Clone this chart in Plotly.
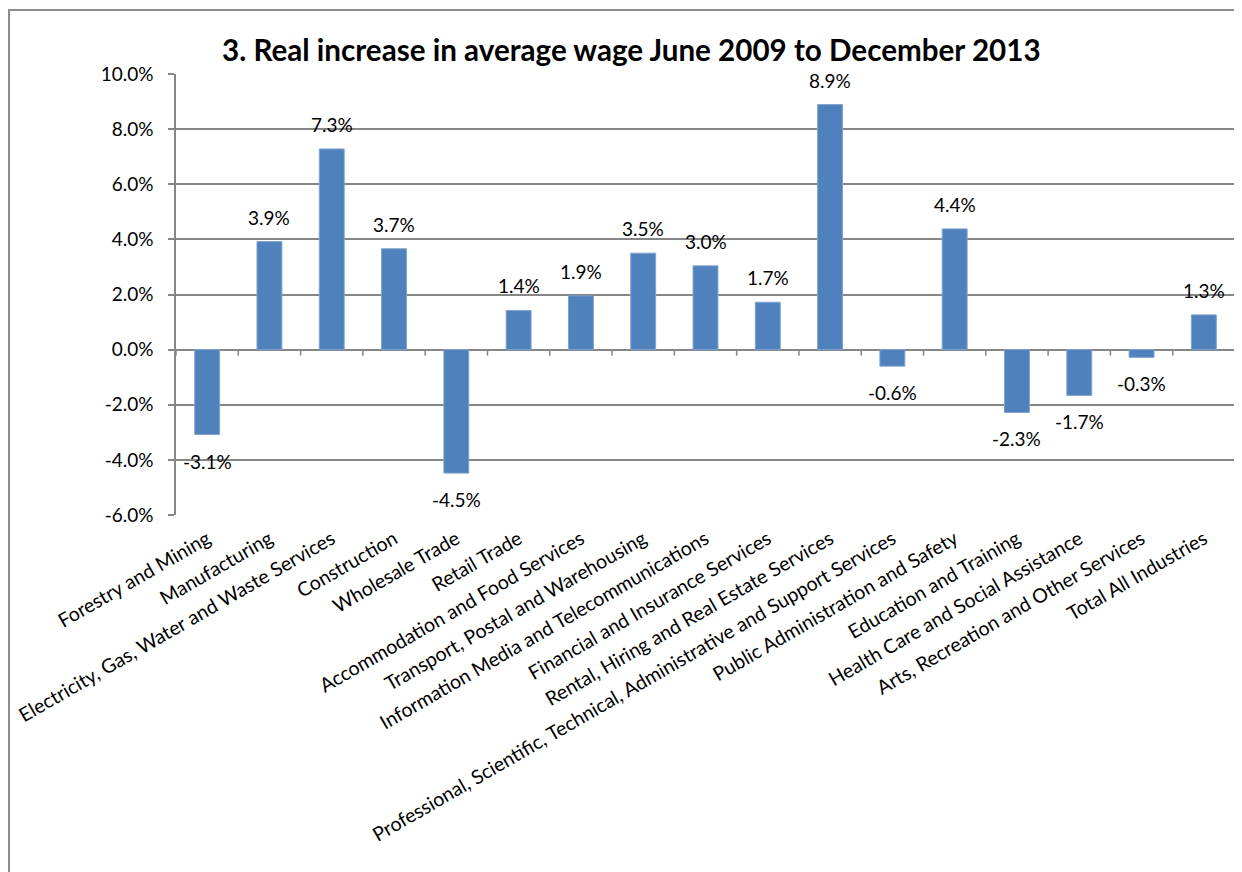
import plotly.graph_objects as go

categories = [
    "Forestry and Mining",
    "Manufacturing",
    "Electricity, Gas, Water and Waste Services",
    "Construction",
    "Wholesale Trade",
    "Retail Trade",
    "Accommodation and Food Services",
    "Transport, Postal and Warehousing",
    "Information Media and Telecommunications",
    "Financial and Insurance Services",
    "Rental, Hiring and Real Estate Services",
    "Professional, Scientific, Technical, Administrative and Support Services",
    "Public Administration and Safety",
    "Education and Training",
    "Health Care and Social Assistance",
    "Arts, Recreation and Other Services",
    "Total All Industries",
]
values = [-3.08, 3.92, 7.28, 3.66, -4.48, 1.42, 1.95, 3.50, 3.04, 1.72,
          8.89, -0.60, 4.38, -2.28, -1.66, -0.28, 1.26]
y_ticks = [-6, -4, -2, 0, 2, 4, 6, 8, 10]
title = "3. Real increase in average wage June 2009 to December 2013"

# page body has an 8px margin; figure coordinates = page coordinates - 8
OFF = 8
W, H = 1242 - OFF, 872 - OFF
L, R, T, B = 176 - OFF, 1235 - OFF, 74 - OFF, 515 - OFF
FONT = "Lato"
GRID = "#868686"

fig = go.Figure()
fig.add_trace(go.Bar(
    x=categories, y=values,
    marker=dict(color="#4F81BD", line=dict(color="#7FA3D0", width=1)),
    width=0.4,
    hoverinfo="x+y",
))

annotations = []
for c, v in zip(categories, values):
    annotations.append(dict(
        x=c, y=v, xref="x", yref="y",
        text=f"{v:.1f}%", showarrow=False,
        yanchor="bottom" if v >= 0 else "top",
        yshift=11 if v >= 0 else -13,
        font=dict(family=FONT, size=19, color="#000000"),
    ))

px = lambda p: (p - OFF - L) / (R - L)
py = lambda p: (B - (p - OFF)) / (B - T)

# title
annotations.append(dict(
    x=px(631), y=py(50), xref="paper", yref="paper",
    text=f"<b>{title}</b>", showarrow=False, xanchor="center", yanchor="middle",
    font=dict(family=FONT, size=29.6, color="#000000"),
))

shapes = []
# category tick marks on the zero axis
for i in range(len(categories) + 1):
    shapes.append(dict(
        type="line", xref="x", yref="y", ysizemode="pixel", yanchor=0,
        x0=i - 0.5, x1=i - 0.5, y0=0, y1=-6,
        line=dict(color=GRID, width=1.5),
    ))
# outer chart frame (left and top)
shapes.append(dict(type="line", xref="paper", yref="paper",
                   x0=px(9), x1=px(9), y0=py(10), y1=py(880),
                   line=dict(color="#8C8C8C", width=2)))
shapes.append(dict(type="line", xref="paper", yref="paper",
                   x0=px(8), x1=px(1250), y0=py(10), y1=py(10),
                   line=dict(color="#8C8C8C", width=2)))

fig.update_layout(
    width=W, height=H,
    margin=dict(l=L, r=W - R, t=T, b=H - B, pad=0, autoexpand=False),
    paper_bgcolor="white", plot_bgcolor="white",
    showlegend=False,
    annotations=annotations,
    shapes=shapes,
    font=dict(family=FONT, size=18, color="#000000"),
    xaxis=dict(
        type="category",
        range=[-0.5, len(categories) - 0.5],
        tickangle=-30,
        automargin=False,
        showline=False, showgrid=False, ticks="",
        ticklabelstandoff=8,
        tickfont=dict(family=FONT, size=19.6, color="#000000"),
        fixedrange=True,
    ),
    yaxis=dict(
        range=[-6, 10],
        automargin=False,
        tickvals=y_ticks,
        ticktext=[f"{t:.1f}%" for t in y_ticks],
        showgrid=True, gridcolor=GRID, gridwidth=1.5,
        zeroline=True, zerolinecolor=GRID, zerolinewidth=1.5,
        showline=True, linecolor=GRID, linewidth=1.5,
        ticks="outside", ticklen=6, tickcolor=GRID, tickwidth=1.5,
        ticklabelstandoff=11,
        tickfont=dict(family=FONT, size=19, color="#000000"),
        fixedrange=True,
    ),
)

fig.write_html("out.html")
